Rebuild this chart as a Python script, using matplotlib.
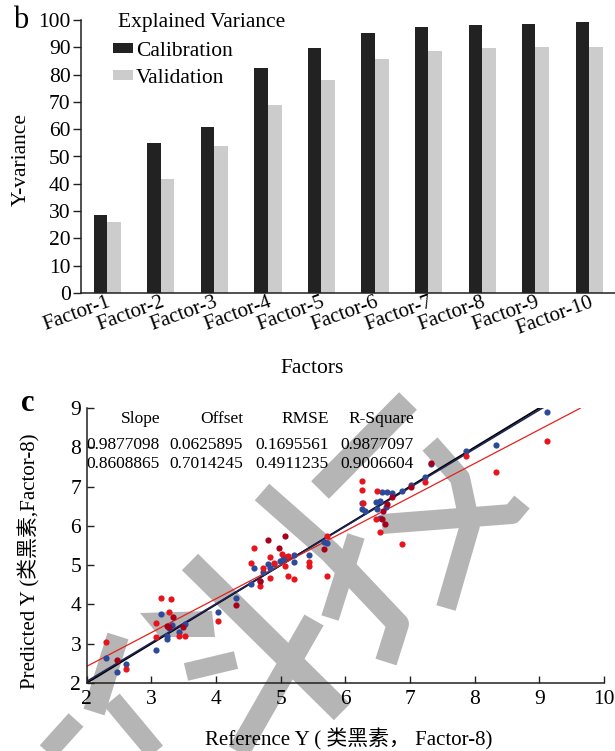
import numpy as np
import matplotlib.pyplot as plt
from matplotlib.lines import Line2D
from matplotlib.patches import Polygon
from matplotlib.transforms import ScaledTranslation

plt.rcParams['font.family'] = ['Liberation Serif', 'Noto Sans CJK SC']
plt.rcParams['axes.unicode_minus'] = False

# ---- panel b: explained Y-variance per factor ----
factors = ['Factor-1', 'Factor-2', 'Factor-3', 'Factor-4', 'Factor-5',
           'Factor-6', 'Factor-7', 'Factor-8', 'Factor-9', 'Factor-10']
calibration = [28.6, 54.9, 60.9, 82.6, 89.8, 95.2, 97.4, 98.3, 98.7, 99.2]
validation = [25.9, 41.7, 53.8, 68.9, 78.0, 85.8, 88.7, 89.7, 90.1, 90.1]

# ---- panel c: predicted vs reference (Factor-8) ----
cal_x = [2.30, 2.47, 2.61, 3.07, 3.15, 3.24, 3.24, 3.28, 3.32, 3.43, 3.52, 4.03,
         4.31, 4.54, 4.59, 4.68, 4.72, 4.80, 4.84, 4.90, 4.99, 5.03, 5.08, 5.20,
         5.20, 5.44, 5.67, 5.72, 6.26, 6.26, 6.30, 6.47, 6.49, 6.54, 6.57, 6.65,
         6.72, 6.63, 6.54, 6.88, 7.01, 7.23, 7.32, 7.87, 8.33, 9.12]
cal_y = [2.63, 2.27, 2.48, 2.84, 3.75, 3.12, 3.19, 3.40, 3.48, 3.31, 3.49, 3.80,
         4.16, 4.52, 4.94, 4.60, 4.82, 5.02, 4.92, 5.03, 5.11, 5.16, 5.22, 5.26,
         5.09, 5.26, 5.60, 5.56, 6.58, 6.44, 6.38, 6.60, 6.44, 6.64, 6.85, 6.87,
         6.83, 6.47, 6.19, 6.88, 7.04, 7.25, 7.57, 7.90, 8.05, 8.90]

val_x = [2.30, 2.61, 3.07, 3.07, 3.15, 3.27, 3.31, 3.43, 3.52, 4.03, 4.54, 4.59,
         4.68, 4.72, 4.83, 4.83, 4.90, 5.02, 5.07, 5.11, 5.11, 5.20, 5.44, 5.44,
         5.72, 5.72, 6.26, 6.26, 6.28, 6.47, 6.49, 6.54, 6.88, 7.23, 7.87, 8.33,
         9.12]
val_y = [3.05, 2.36, 3.52, 3.16, 4.16, 3.80, 4.14, 3.19, 3.20, 3.59, 5.05, 5.43,
         4.48, 4.92, 5.20, 4.67, 5.05, 5.28, 4.99, 5.24, 4.73, 4.66, 5.07, 4.97,
         5.75, 4.73, 7.15, 6.92, 6.58, 6.17, 6.88, 5.85, 5.54, 7.11, 7.77, 7.38,
         8.16]
# validation samples sitting on calibration samples
val_dark_x = [2.47, 3.24, 3.27, 3.33, 3.49, 4.31, 4.68, 4.80, 4.97, 5.07, 5.67,
              6.57, 6.58, 6.62, 6.65, 6.72, 7.01, 7.32]
val_dark_y = [2.59, 3.46, 3.42, 3.68, 3.42, 3.98, 4.60, 5.64, 5.43, 5.75, 5.41,
              6.17, 6.38, 6.05, 6.55, 6.74, 6.98, 7.61]

stat_names = ['Slope', 'Offset', 'RMSE', 'R-Square']
stats_cal = ['0.9877098', '0.0625895', '0.1695561', '0.9877097']
stats_val = ['0.8608865', '0.7014245', '0.4911235', '0.9006604']
slope_cal, offset_cal = 0.9877098, 0.0625895
slope_val, offset_val = 0.8608865, 0.7014245

W, H = 615, 751
fig = plt.figure(figsize=(W / 100, H / 100), dpi=100)


def fx(px):
    return px / W


def fy(py):
    return 1 - py / H


# background layer with the grey overprint strokes
bg = fig.add_axes([0, 0, 1, 1], zorder=0)
bg.set_xlim(0, W)
bg.set_ylim(H, 0)
bg.axis('off')
wm = '#b5b5b5'
strokes = [
    ([(190, 562), (342, 712)], 23),
    ([(314, 620), (234, 760)], 22),
    ([(262, 492), (330, 552), (398, 624), (386, 662)], 22),
    ([(320, 490), (408, 401)], 25),
    ([(356, 536), (330, 618)], 18),
    ([(186, 672), (236, 660)], 18),
    ([(430, 444), (460, 478), (470, 525), (446, 608)], 20),
    ([(382, 524), (512, 514), (522, 502)], 20),
    ([(118, 636), (94, 712)], 22),
    ([(112, 700), (162, 760)], 20),
    ([(76, 720), (40, 760)], 20),
]
for pts, w in strokes:
    xs, ys = zip(*pts)
    bg.add_line(Line2D(xs, ys, color=wm, lw=w * 0.72,
                       solid_capstyle='butt', solid_joinstyle='round'))
bg.add_patch(Polygon([(140, 613), (212, 611), (215, 637), (160, 637)],
                     closed=True, color=wm, lw=0))

ink = '#231f20'

# ---------------- panel b ----------------
axb = fig.add_axes([fx(81), fy(293), fx(534), 273 / H], zorder=1)
axb.patch.set_alpha(0)
x = np.arange(len(factors))
axb.bar(x - 0.125, calibration, width=0.25, color='#222222', label='Calibration')
axb.bar(x + 0.13, validation, width=0.26, color='#cccccc', label='Validation')
axb.set_xlim(-0.485, len(factors) - 0.515)
axb.set_ylim(0, 100)
axb.set_yticks(np.arange(0, 101, 10))
axb.set_xticks(x)
axb.set_xticklabels(factors, rotation=20, ha='right', va='top',
                    rotation_mode='anchor', fontsize=15)
off = ScaledTranslation(10 / 100, -6 / 100, fig.dpi_scale_trans)
for lab in axb.get_xticklabels():
    lab.set_transform(lab.get_transform() + off)
axb.tick_params(axis='x', length=0, pad=0)
axb.tick_params(axis='y', direction='out', length=6, width=1, labelsize=15.5,
                pad=1.5, color=ink)
for s in ['top', 'right']:
    axb.spines[s].set_visible(False)
for s in ['left', 'bottom']:
    axb.spines[s].set_color(ink)
    axb.spines[s].set_linewidth(1.1)
axb.legend(loc='upper left', bbox_to_anchor=(0.06, 0.92), frameon=False,
           fontsize=15.5, handlelength=0.95, handleheight=0.35,
           handletextpad=0.1, labelspacing=0.38, borderpad=0, borderaxespad=0)
fig.text(fx(118), fy(27), 'Explained Variance', fontsize=15.5, va='baseline')
fig.text(fx(13), fy(28), 'b', fontsize=22, va='baseline')
fig.text(fx(312), fy(373), 'Factors', fontsize=15.5, ha='center', va='baseline')
fig.text(fx(21), fy(160), 'Y-variance', fontsize=15.5, rotation=90,
         ha='center', va='center')

# ---------------- panel c ----------------
axc = fig.add_axes([fx(86.7), fy(683), fx(604 - 86.7), 275 / H], zorder=1)
axc.patch.set_alpha(0)
axc.set_xlim(2, 10)
axc.set_ylim(2, 9)
xx = np.array([2, 9.1])
axc.plot(xx, xx, color='black', lw=1.3, zorder=2)
axc.plot(xx, slope_cal * xx + offset_cal, color='#1c2452', lw=1.2, zorder=2)
xr = np.array([2, 9.63])
axc.plot(xr, slope_val * xr + offset_val, color='#e8201a', lw=0.9, zorder=2)
axc.scatter(cal_x, cal_y, s=20, color='#2b4a9c', lw=0, zorder=3)
axc.scatter(val_x, val_y, s=20, color='#e8141c', lw=0, zorder=4)
axc.scatter(val_dark_x, val_dark_y, s=20, color='#a8001a', lw=0, zorder=4)
axc.set_xticks(range(2, 11))
axc.set_yticks(range(2, 10))
axc.tick_params(direction='in', length=5, width=1, labelsize=15.5, color=ink)
axc.tick_params(axis='x', pad=5)
axc.tick_params(axis='y', pad=4)
for s in ['top', 'right']:
    axc.spines[s].set_visible(False)
for s in ['left', 'bottom']:
    axc.spines[s].set_color(ink)
    axc.spines[s].set_linewidth(1.1)

col_right = [160, 243, 329, 414]
for xr_px, name, v1, v2 in zip(col_right, stat_names, stats_cal, stats_val):
    fig.text(fx(xr_px), fy(423), name, fontsize=12.5, ha='right', va='baseline')
    fig.text(fx(xr_px), fy(449), v1, fontsize=12.5, ha='right', va='baseline')
    fig.text(fx(xr_px), fy(468), v2, fontsize=12.5, ha='right', va='baseline')

fig.text(fx(21), fy(411), 'c', fontsize=22, fontweight='bold', va='baseline')
fig.text(fx(349), fy(739), 'Reference Y ( 类黑素， Factor-8)', fontsize=15,
         ha='center', va='center')
fig.text(fx(29), fy(561), 'Predicted Y (类黑素,Factor-8)', fontsize=15,
         rotation=90, ha='center', va='center')

fig.savefig('out.png', dpi=100)
